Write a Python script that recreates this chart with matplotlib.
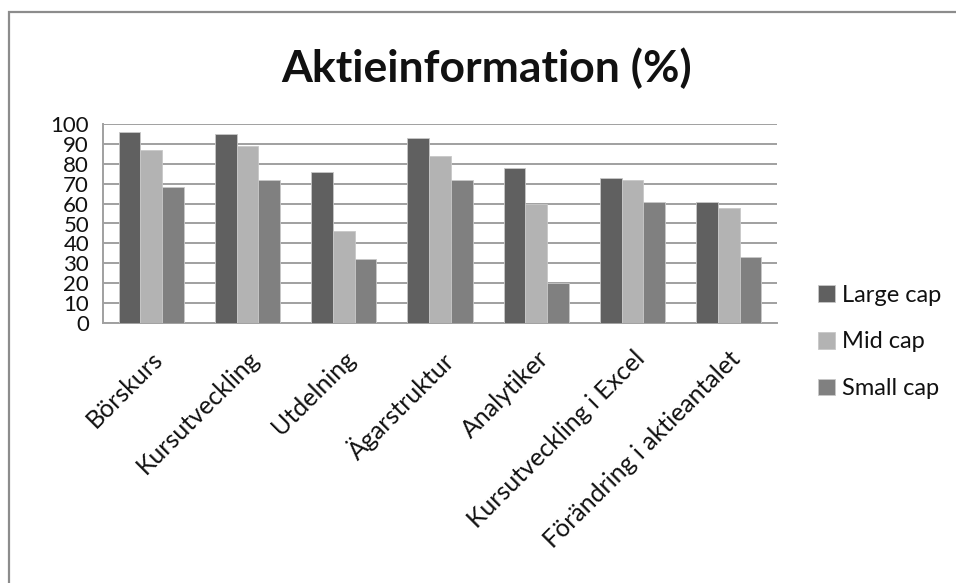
import matplotlib
matplotlib.use("Agg")
import matplotlib.pyplot as plt
import numpy as np
from matplotlib.patches import Rectangle

plt.rcParams['font.family'] = ['Lato', 'DejaVu Sans']

# data
categories = ['Börskurs', 'Kursutveckling', 'Utdelning', 'Ägarstruktur',
              'Analytiker', 'Kursutveckling i Excel', 'Förändring i aktieantalet']
large_cap = [96, 95, 76, 93, 78, 73, 61]
mid_cap = [87, 89, 46, 84, 60, 72, 58]
small_cap = [68.5, 72, 32, 72, 20, 61, 33]
series_names = ['Large cap', 'Mid cap', 'Small cap']
colors = ['#606060', '#b3b3b3', '#808080']

fig = plt.figure(figsize=(9.56, 5.83), dpi=100)
W, H = 956, 583

# outer chart border (Excel chart area)
fig.patches.append(Rectangle((9 / W, -0.05), 1.05, 1 - 12 / H + 0.05,
                             transform=fig.transFigure, fill=False,
                             edgecolor='#8c8c8c', linewidth=1.6))

ax = fig.add_axes([103 / W, (H - 323) / H, 674 / W, 199 / H])

x = np.arange(len(categories))
w = 0.226
for i, (vals, name, c) in enumerate(zip([large_cap, mid_cap, small_cap], series_names, colors)):
    ax.bar(x + (i - 1) * w, vals, w, color=c, edgecolor='#c8c8c8',
           linewidth=0.6, label=name, zorder=3)

ax.set_xlim(-0.5, len(categories) - 0.5)
ax.set_ylim(0, 100)
ax.set_yticks(range(0, 101, 10))
ax.yaxis.grid(True, color='#a0a0a0', linewidth=1.4, zorder=0)
ax.set_axisbelow(True)
for s in ['top', 'right']:
    ax.spines[s].set_visible(False)
for s in ['left', 'bottom']:
    ax.spines[s].set_color('#a0a0a0')
    ax.spines[s].set_linewidth(1.4)
ax.tick_params(axis='y', length=0, pad=10, labelsize=16, labelcolor='#111111')
ax.tick_params(axis='x', length=0, pad=17, labelsize=18, labelcolor='#111111')
ax.set_xticks(x)
ax.set_xticklabels(categories, rotation=45, ha='right', rotation_mode='anchor')

fig.text(487 / W, 1 - 68 / H, 'Aktieinformation (%)', ha='center', va='center',
         fontsize=32, fontweight='bold', color='#111111')

ax.legend(loc='center left', bbox_to_anchor=(797 / W, 1 - 342 / H),
          bbox_transform=fig.transFigure, frameon=False, fontsize=17,
          handlelength=0.7, handleheight=0.7, handletextpad=0.3,
          labelspacing=1.1, labelcolor='#111111')

fig.savefig('out.png', dpi=100)
